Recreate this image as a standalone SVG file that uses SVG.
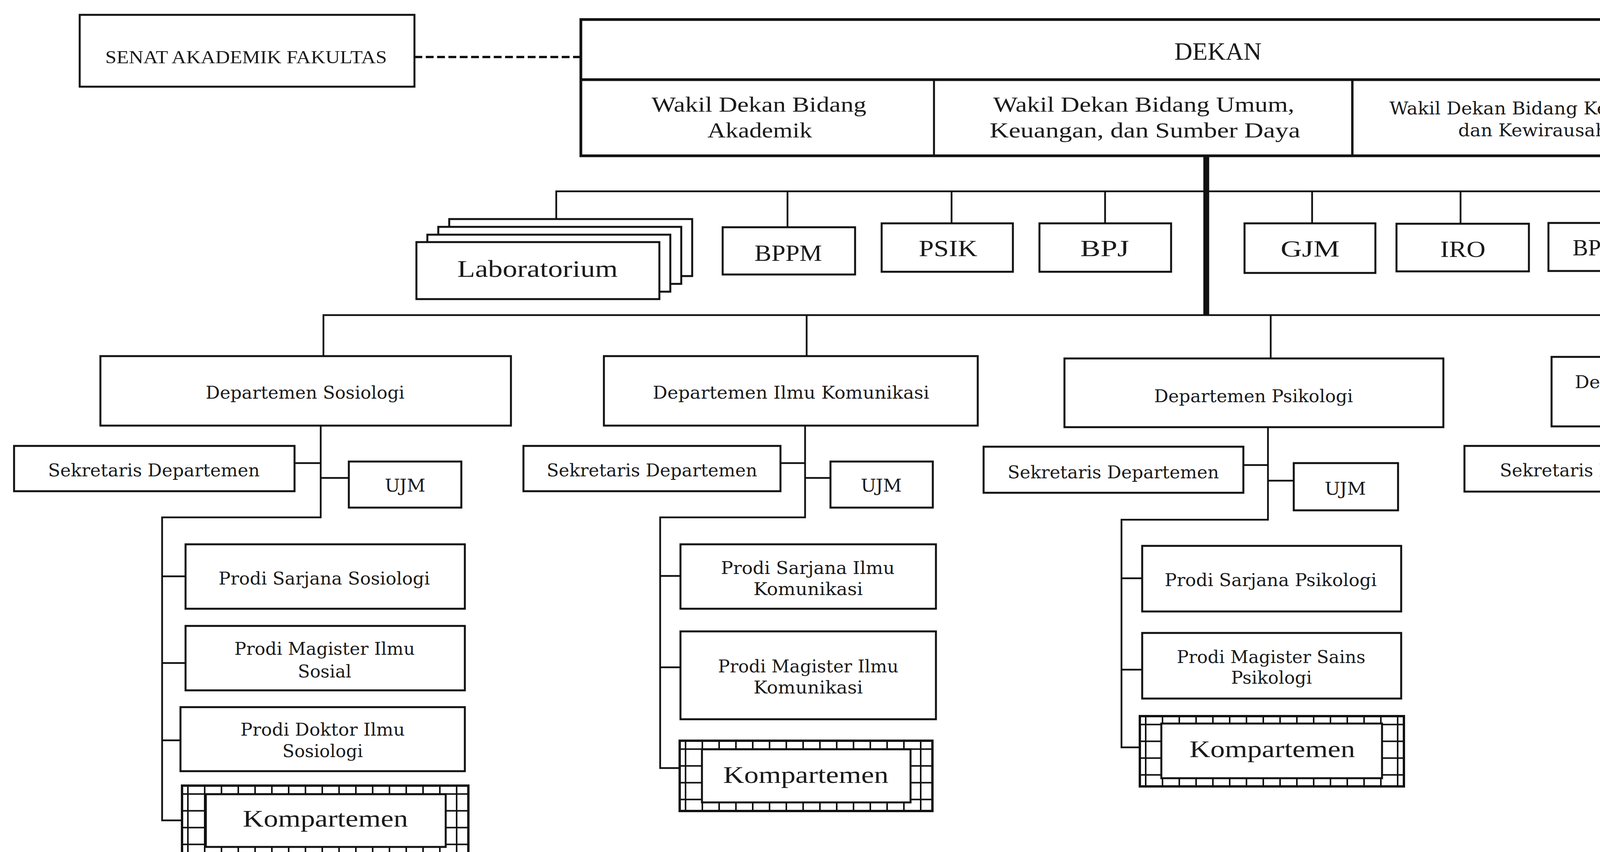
<svg xmlns="http://www.w3.org/2000/svg" width="6026" height="2182" viewBox="0 0 6026 2182">
<style>
.bx{fill:#fff;stroke:#111;stroke-width:5}
.ln{fill:none;stroke:#111;stroke-width:4.5}
.t{font-family:"DejaVu Serif","Liberation Serif",serif;font-size:44px;fill:#1a1a1a;text-anchor:middle}
.c{font-family:"Liberation Serif","DejaVu Serif",serif;fill:#1a1a1a;text-anchor:middle}
</style>
<defs>
<pattern id="grid" width="43" height="43" patternUnits="userSpaceOnUse">
<rect width="43" height="43" fill="#fff"/>
<path d="M15 0V43M0 21.5H43" stroke="#111" stroke-width="4"/>
</pattern>
</defs>
<rect width="6026" height="2182" fill="#fff"/>

<g id="connectors">
<line x1="1061" y1="146" x2="1487" y2="146" stroke="#111" stroke-width="6" stroke-dasharray="20 9"/>
<line x1="3088" y1="399" x2="3088" y2="807" stroke="#111" stroke-width="15"/>
<path class="ln" d="M1424 561V490H4123V571M2016 490V582M2436 490V572M2829 490V572M3359 490V572M3739 490V572"/>
<path class="ln" d="M828 912V807H5591V916M2065 807V912M3253 807V918M4544 807V914"/>
<path class="ln" d="M821 1090V1325H415V2101H466M754 1186H821M821 1224H893M415 1476H475M415 1698H475M415 1896H462"/>
<path class="ln" d="M2061 1090V1325H1690V1967H1740M1998 1186H2061M2061 1224H2126M1690 1475H1742M1690 1709H1742"/>
<path class="ln" d="M3246 1094V1331H2871V1914H2918M3183 1191H3246M3246 1231H3312M2871 1481H2924M2871 1715H2924"/>
<path class="ln" d="M4537 1092V1329H4133V2103H4182M4470 1189H4537M4537 1226H4609M4133 1478H4189M4133 1700H4189M4133 1898H4178"/>
<path class="ln" d="M5591 1094V1146H5127V1874H5201M5127 1358H5203M5127 1641H5206"/>
</g>

<g id="senat">
<rect class="bx" x="204" y="38" width="857" height="184"/>
<text class="c" x="630" y="162" font-size="46" textLength="721" lengthAdjust="spacingAndGlyphs">SENAT AKADEMIK FAKULTAS</text>
</g>

<g id="dekan">
<rect x="1487" y="50" width="3263" height="349" fill="#fff" stroke="#111" stroke-width="7"/>
<line x1="1487" y1="204" x2="4750" y2="204" stroke="#111" stroke-width="7"/>
<text class="c" x="3118" y="153" font-size="64" textLength="223" lengthAdjust="spacingAndGlyphs">DEKAN</text>
</g>
<g id="wakil-akademik">
<text class="c" x="1943" y="286" font-size="54" textLength="550" lengthAdjust="spacingAndGlyphs">Wakil Dekan Bidang</text>
<text class="c" x="1945" y="352" font-size="54" textLength="268" lengthAdjust="spacingAndGlyphs">Akademik</text>
</g>
<g id="wakil-umum">
<line x1="2391" y1="204" x2="2391" y2="399" stroke="#111" stroke-width="5"/>
<text class="c" x="2928" y="286" font-size="54" textLength="771" lengthAdjust="spacingAndGlyphs">Wakil Dekan Bidang Umum,</text>
<text class="c" x="2931" y="352" font-size="54" textLength="795" lengthAdjust="spacingAndGlyphs">Keuangan, dan Sumber Daya</text>
</g>
<g id="wakil-kemahasiswaan">
<line x1="3462" y1="204" x2="3462" y2="399" stroke="#111" stroke-width="6"/>
<text class="t" x="4104" y="293" font-size="44" textLength="1094" lengthAdjust="spacingAndGlyphs">Wakil Dekan Bidang Kemahasiswaan, Alumni,</text>
<text class="t" x="4106" y="349" font-size="44" textLength="746" lengthAdjust="spacingAndGlyphs">dan Kewirausahaan Mahasiswa</text>
</g>

<g id="laboratorium">
<rect class="bx" x="1150" y="561" width="622" height="146"/>
<rect class="bx" x="1122" y="581" width="622" height="146"/>
<rect class="bx" x="1094" y="601" width="622" height="146"/>
<rect class="bx" x="1066" y="620" width="622" height="146"/>
<text class="c" x="1376" y="709" font-size="62" textLength="411" lengthAdjust="spacingAndGlyphs">Laboratorium</text>
</g>
<g id="bppm">
<rect class="bx" x="1850" y="582" width="339" height="121"/>
<text class="c" x="2018" y="668" font-size="60" textLength="173" lengthAdjust="spacingAndGlyphs">BPPM</text>
</g>
<g id="psik">
<rect class="bx" x="2257" y="572" width="336" height="124"/>
<text class="c" x="2427" y="656" font-size="60" textLength="150" lengthAdjust="spacingAndGlyphs">PSIK</text>
</g>
<g id="bpj">
<rect class="bx" x="2661" y="572" width="337" height="124"/>
<text class="c" x="2828" y="656" font-size="60" textLength="125" lengthAdjust="spacingAndGlyphs">BPJ</text>
</g>
<g id="gjm">
<rect class="bx" x="3186" y="572" width="335" height="127"/>
<text class="c" x="3354" y="657" font-size="60" textLength="151" lengthAdjust="spacingAndGlyphs">GJM</text>
</g>
<g id="iro">
<rect class="bx" x="3575" y="573" width="339" height="122"/>
<text class="c" x="3745" y="658" font-size="60" textLength="116" lengthAdjust="spacingAndGlyphs">IRO</text>
</g>
<g id="bpm-ld">
<rect class="bx" x="3964" y="571" width="346" height="123"/>
<text class="c" x="4138" y="654" font-size="60" textLength="224" lengthAdjust="spacingAndGlyphs">BPM-LD</text>
</g>

<g id="dept-sosiologi">
<rect class="bx" x="257" y="912" width="1051" height="178"/>
<text class="t" x="781" y="1021" textLength="509" lengthAdjust="spacingAndGlyphs">Departemen Sosiologi</text>
</g>
<g id="dept-komunikasi">
<rect class="bx" x="1546" y="912" width="957" height="178"/>
<text class="t" x="2025" y="1021" textLength="708" lengthAdjust="spacingAndGlyphs">Departemen Ilmu Komunikasi</text>
</g>
<g id="dept-psikologi">
<rect class="bx" x="2725" y="918" width="970" height="176"/>
<text class="t" x="3209" y="1030" textLength="509" lengthAdjust="spacingAndGlyphs">Departemen Psikologi</text>
</g>
<g id="dept-politik">
<rect class="bx" x="3972" y="914" width="1049" height="178"/>
<text class="t" x="4497" y="994" textLength="931" lengthAdjust="spacingAndGlyphs">Departemen Politik, Pemerintahan, dan</text>
<text class="t" x="4498" y="1052" textLength="579" lengthAdjust="spacingAndGlyphs">Hubungan Internasional</text>
</g>
<g id="bagian-tata-usaha">
<rect class="bx" x="5294" y="916" width="594" height="178"/>
<text class="t" x="5591" y="988" textLength="160" lengthAdjust="spacingAndGlyphs">Bagian</text>
<text class="t" x="5590" y="1046" textLength="266" lengthAdjust="spacingAndGlyphs">Tata Usaha</text>
</g>

<g id="sek-sosiologi">
<rect class="bx" x="36" y="1142" width="718" height="116"/>
<text class="t" x="394" y="1220" textLength="542" lengthAdjust="spacingAndGlyphs">Sekretaris Departemen</text>
</g>
<g id="ujm-sosiologi">
<rect class="bx" x="893" y="1182" width="288" height="118"/>
<text class="t" x="1037" y="1259" textLength="104" lengthAdjust="spacingAndGlyphs">UJM</text>
</g>
<g id="sek-komunikasi">
<rect class="bx" x="1340" y="1142" width="658" height="116"/>
<text class="t" x="1669" y="1220" textLength="539" lengthAdjust="spacingAndGlyphs">Sekretaris Departemen</text>
</g>
<g id="ujm-komunikasi">
<rect class="bx" x="2126" y="1182" width="262" height="118"/>
<text class="t" x="2256" y="1259" textLength="105" lengthAdjust="spacingAndGlyphs">UJM</text>
</g>
<g id="sek-psikologi">
<rect class="bx" x="2518" y="1144" width="665" height="118"/>
<text class="t" x="2850" y="1225" textLength="541" lengthAdjust="spacingAndGlyphs">Sekretaris Departemen</text>
</g>
<g id="ujm-psikologi">
<rect class="bx" x="3312" y="1186" width="267" height="121"/>
<text class="t" x="3444" y="1267" textLength="106" lengthAdjust="spacingAndGlyphs">UJM</text>
</g>
<g id="sek-politik">
<rect class="bx" x="3749" y="1142" width="721" height="117"/>
<text class="t" x="4109" y="1220" textLength="539" lengthAdjust="spacingAndGlyphs">Sekretaris Departemen</text>
</g>
<g id="ujm-politik">
<rect class="bx" x="4609" y="1184" width="287" height="120"/>
<text class="t" x="4752" y="1262" textLength="105" lengthAdjust="spacingAndGlyphs">UJM</text>
</g>

<g id="prodi-s-sosiologi">
<rect class="bx" x="475" y="1394" width="715" height="165"/>
<text class="t" x="830" y="1497" textLength="541" lengthAdjust="spacingAndGlyphs">Prodi Sarjana Sosiologi</text>
</g>
<g id="prodi-m-sosial">
<rect class="bx" x="475" y="1603" width="715" height="165"/>
<text class="t" x="831" y="1677" textLength="462" lengthAdjust="spacingAndGlyphs">Prodi Magister Ilmu</text>
<text class="t" x="831" y="1735" textLength="137" lengthAdjust="spacingAndGlyphs">Sosial</text>
</g>
<g id="prodi-d-sosiologi">
<rect class="bx" x="462" y="1811" width="728" height="164"/>
<text class="t" x="826" y="1884" textLength="421" lengthAdjust="spacingAndGlyphs">Prodi Doktor Ilmu</text>
<text class="t" x="826" y="1939" textLength="206" lengthAdjust="spacingAndGlyphs">Sosiologi</text>
</g>
<g id="kompartemen-sosiologi" transform="translate(466,2012)">
<rect width="733" height="178" fill="url(#grid)" stroke="#111" stroke-width="6"/>
<rect class="bx" x="61" y="22" width="614" height="135"/>
<text class="c" x="367" y="105" font-size="62" textLength="423" lengthAdjust="spacingAndGlyphs">Kompartemen</text>
</g>

<g id="prodi-s-komunikasi">
<rect class="bx" x="1742" y="1394" width="654" height="165"/>
<text class="t" x="2068" y="1470" textLength="445" lengthAdjust="spacingAndGlyphs">Prodi Sarjana Ilmu</text>
<text class="t" x="2069" y="1524" textLength="280" lengthAdjust="spacingAndGlyphs">Komunikasi</text>
</g>
<g id="prodi-m-komunikasi">
<rect class="bx" x="1742" y="1617" width="654" height="225"/>
<text class="t" x="2069" y="1722" textLength="462" lengthAdjust="spacingAndGlyphs">Prodi Magister Ilmu</text>
<text class="t" x="2069" y="1776" textLength="280" lengthAdjust="spacingAndGlyphs">Komunikasi</text>
</g>
<g id="kompartemen-komunikasi" transform="translate(1740,1897)">
<rect width="647" height="180" fill="url(#grid)" stroke="#111" stroke-width="6"/>
<rect class="bx" x="57" y="22" width="534" height="136"/>
<text class="c" x="323" y="108" font-size="62" textLength="423" lengthAdjust="spacingAndGlyphs">Kompartemen</text>
</g>

<g id="prodi-s-psikologi">
<rect class="bx" x="2924" y="1398" width="663" height="168"/>
<text class="t" x="3253" y="1501" textLength="543" lengthAdjust="spacingAndGlyphs">Prodi Sarjana Psikologi</text>
</g>
<g id="prodi-m-psikologi">
<rect class="bx" x="2924" y="1621" width="663" height="168"/>
<text class="t" x="3254" y="1698" textLength="483" lengthAdjust="spacingAndGlyphs">Prodi Magister Sains</text>
<text class="t" x="3255" y="1751" textLength="207" lengthAdjust="spacingAndGlyphs">Psikologi</text>
</g>
<g id="kompartemen-psikologi" transform="translate(2918,1834)">
<rect width="676" height="180" fill="url(#grid)" stroke="#111" stroke-width="6"/>
<rect class="bx" x="55" y="19" width="565" height="140"/>
<text class="c" x="339" y="105" font-size="62" textLength="424" lengthAdjust="spacingAndGlyphs">Kompartemen</text>
</g>

<g id="prodi-s-politik">
<rect class="bx" x="4189" y="1396" width="716" height="168"/>
<text class="t" x="4548" y="1470" textLength="442" lengthAdjust="spacingAndGlyphs">Prodi Sarjana Ilmu</text>
<text class="t" x="4547" y="1528" textLength="145" lengthAdjust="spacingAndGlyphs">Politik</text>
</g>
<g id="prodi-s-pemerintahan">
<rect class="bx" x="4189" y="1606" width="716" height="163"/>
<text class="t" x="4548" y="1682" textLength="442" lengthAdjust="spacingAndGlyphs">Prodi Sarjana Ilmu</text>
<text class="t" x="4547" y="1737" textLength="328" lengthAdjust="spacingAndGlyphs">Pemerintahan</text>
</g>
<g id="prodi-s-hi">
<rect class="bx" x="4178" y="1814" width="727" height="162"/>
<text class="t" x="4539" y="1890" textLength="585" lengthAdjust="spacingAndGlyphs">Prodi Sarjana Hubungan</text>
<text class="t" x="4541" y="1943" textLength="311" lengthAdjust="spacingAndGlyphs">Internasional</text>
</g>
<g id="kompartemen-politik" transform="translate(4182,2017)">
<rect width="734" height="178" fill="url(#grid)" stroke="#111" stroke-width="6"/>
<rect class="bx" x="61" y="21" width="609" height="135"/>
<text class="c" x="368" y="100" font-size="62" textLength="425" lengthAdjust="spacingAndGlyphs">Kompartemen</text>
</g>

<g id="subbagian-akademik">
<rect class="bx" x="5203" y="1211" width="784" height="284"/>
<text class="t" x="5594" y="1285" textLength="514" lengthAdjust="spacingAndGlyphs">Subbagian Akademik,</text>
<text class="t" x="5595" y="1340" textLength="596" lengthAdjust="spacingAndGlyphs">Kemahasiswaan, Alumni,</text>
<text class="t" x="5595" y="1398" textLength="390" lengthAdjust="spacingAndGlyphs">Kerja Sama, dan</text>
<text class="t" x="5594" y="1453" textLength="639" lengthAdjust="spacingAndGlyphs">Kewirausahaan Mahasiswa</text>
</g>
<g id="subbagian-umum">
<rect class="bx" x="5206" y="1554" width="791" height="175"/>
<text class="t" x="5600" y="1670" textLength="647" lengthAdjust="spacingAndGlyphs">Subbagian Umum dan Aset</text>
</g>
<g id="subbagian-keuangan">
<rect class="bx" x="5201" y="1784" width="801" height="178"/>
<text class="t" x="5601" y="1861" textLength="608" lengthAdjust="spacingAndGlyphs">Subbagian Keuangan dan</text>
<text class="t" x="5599" y="1920" textLength="305" lengthAdjust="spacingAndGlyphs">Kepegawaian</text>
</g>
</svg>
